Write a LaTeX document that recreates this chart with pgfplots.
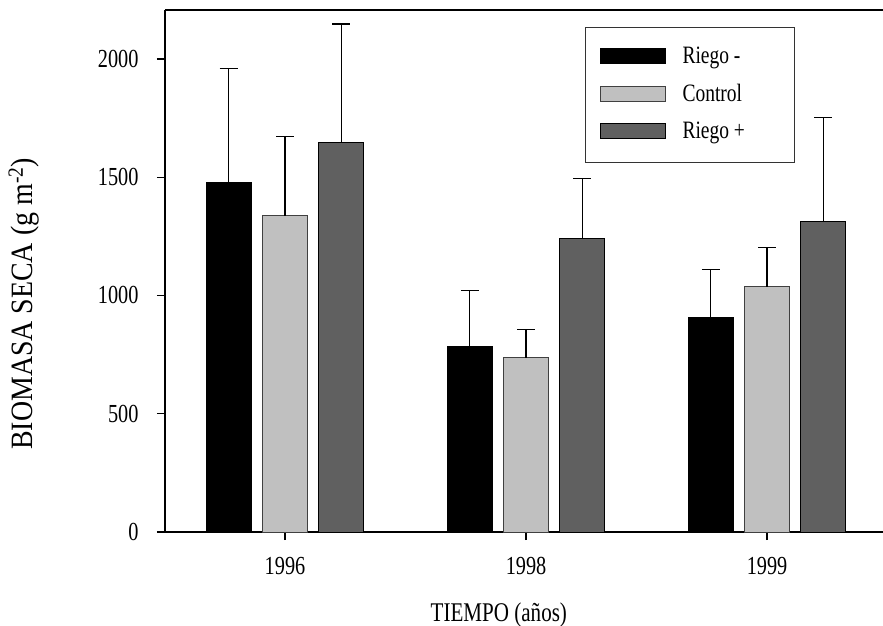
\documentclass[border=0pt]{standalone}
\usepackage{fontspec}
\setmainfont{Liberation Serif}[FakeStretch=0.78]
\newfontfamily\ylfont{Liberation Serif}[FakeStretch=0.9]
\usepackage{pgfplots}
\pgfplotsset{compat=1.18}

\definecolor{ctrl}{HTML}{C0C0C0}
\definecolor{rplus}{HTML}{606060}

\begin{document}
\begin{tikzpicture}
\begin{axis}[
  scale only axis, width=718pt, height=522pt,
  xmin=-0.498, xmax=2.481, ymin=0, ymax=2207,
  axis x line*=bottom, axis y line*=left,
  axis line style={line width=2pt},
  ybar=11.3pt, bar width=45pt,
  xtick=data, xticklabels={1996,1998,1999},
  ytick={0,500,1000,1500,2000},
  tick align=outside, major tick length=8pt,
  tick style={black, line width=1.3pt},
  /pgf/number format/assume math mode=true,
  /pgf/number format/1000 sep={},
  ticklabel style={font=\fontsize{26}{30}\selectfont},
  xticklabel style={yshift=-14pt},
  yticklabel style={xshift=-15pt},
  xlabel={TIEMPO (años)},
  xlabel style={font=\fontsize{27}{30}\selectfont, at={(axis description cs:0.465,-0.172)}, anchor=base},
  ylabel={BIOMASA SECA (g m\textsuperscript{-2})},
  ylabel style={font=\ylfont\fontsize{31}{34}\selectfont, at={(axis description cs:-0.1852,0.437)}, anchor=base},
  legend style={at={(0.585,0.967)}, anchor=north west, draw=black!80, line width=1pt,
    font=\fontsize{25}{28}\selectfont, inner xsep=14pt, inner ysep=18pt, row sep=13.5pt,
    nodes={inner sep=0pt, text height=18pt, text depth=6pt},
    /tikz/every odd column/.append style={column sep=17pt}},
  legend cell align=left,
  legend image code/.code={\draw[#1, line width=1pt] (0pt,-6pt) rectangle (65pt,9pt);},
  error bars/y dir=plus, error bars/y explicit,
  error bars/error bar style={line width=1.3pt, black},
  error bars/error mark options={rotate=90, mark size=9pt, line width=1.3pt, black},
]
\addplot[fill=black, draw=black, line width=1pt] coordinates {(0,1479) +- (0,481) (1,784) +- (0,236) (2,906) +- (0,204)};
\addplot[fill=ctrl, draw=black!75, line width=1pt] coordinates {(0,1337) +- (0,336) (1,737) +- (0,118) (2,1036) +- (0,168)};
\addplot[fill=rplus, draw=black, line width=1pt] coordinates {(0,1647) +- (0,501) (1,1241) +- (0,255) (2,1314) +- (0,439)};
\legend{\makebox[98pt][l]{Riego -}, \makebox[98pt][l]{Control}, \makebox[98pt][l]{Riego +}}
\end{axis}
\draw[line width=2pt] (current axis.north west) -- (current axis.north east);
\pgfresetboundingbox
\path[use as bounding box] ([shift={(-165pt,-94pt)}]current axis.south west) rectangle ([shift={(0pt,10pt)}]current axis.north east);
\end{tikzpicture}
\end{document}
